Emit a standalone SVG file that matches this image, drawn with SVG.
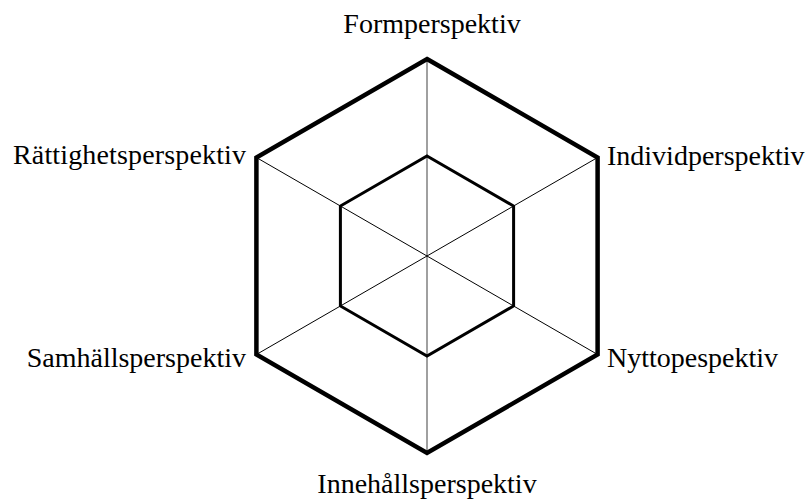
<svg xmlns="http://www.w3.org/2000/svg" width="806" height="500" viewBox="0 0 806 500">
<style>
.lbl{font-family:"Liberation Serif","Times New Roman",serif;font-size:28px;fill:#000}
.spoke{stroke:#000;stroke-width:1;fill:none}
.vspoke{stroke:#808080;stroke-width:1.5;fill:none}
.outer{stroke:#000;stroke-width:4.5;fill:none;stroke-linejoin:miter}
.inner{stroke:#000;stroke-width:3;fill:none;stroke-linejoin:miter}
</style>
<rect width="806" height="500" fill="#fff"/>
<g id="connectors">
<line class="vspoke" x1="427" y1="59" x2="427" y2="453"/>
<line class="spoke" x1="256.4" y1="157.5" x2="597.6" y2="354.5"/>
<line class="spoke" x1="256.4" y1="354.5" x2="597.6" y2="157.5"/>
</g>
<g id="outer-hexagon">
<polygon class="outer" points="427,59 597.6,157.5 597.6,354.5 427,453 256.4,354.5 256.4,157.5"/>
</g>
<g id="inner-hexagon">
<polygon class="inner" points="427,156 513.6,206 513.6,306 427,356 340.4,306 340.4,206"/>
</g>
<g id="n-form"><text class="lbl" x="432" y="33" text-anchor="middle">Formperspektiv</text></g>
<g id="n-individ"><text class="lbl" x="607" y="165">Individperspektiv</text></g>
<g id="n-nytto"><text class="lbl" x="607" y="367">Nyttopespektiv</text></g>
<g id="n-innehall"><text class="lbl" x="427" y="493" text-anchor="middle">Innehållsperspektiv</text></g>
<g id="n-samhall"><text class="lbl" x="246" y="367" text-anchor="end">Samhällsperspektiv</text></g>
<g id="n-rattighet"><text class="lbl" x="246" y="164" text-anchor="end" textLength="233">Rättighetsperspektiv</text></g>
</svg>
